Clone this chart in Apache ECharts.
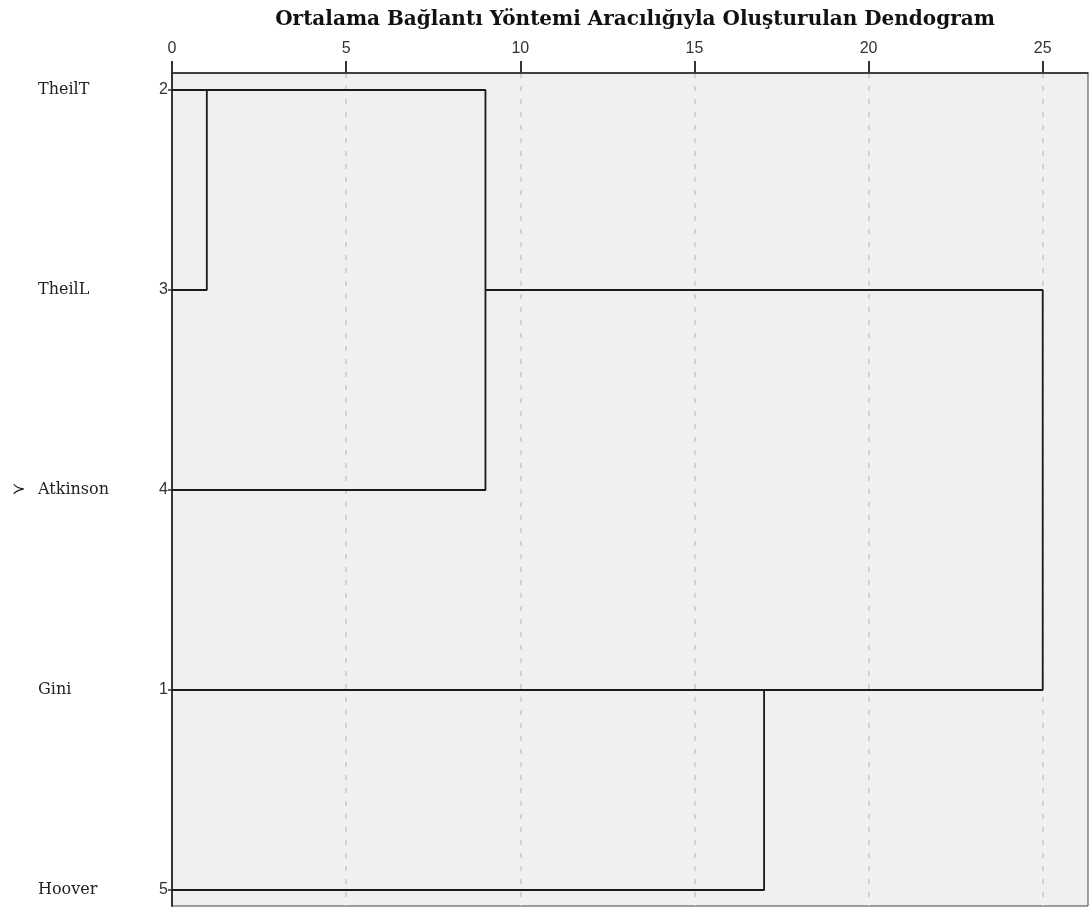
<!DOCTYPE html>
<html>
<head>
<meta charset="utf-8">
<script src="https://cdn.jsdelivr.net/npm/echarts@6/dist/echarts.min.js"></script>
<style>
  html, body { margin: 0; background: #fff; }
  #chart { width: 1092px; height: 924px; }
</style>
</head>
<body>
<div id="chart"></div>
<script>
// leaves top to bottom, with SPSS case numbers
const leafNames = ['TheilT', 'TheilL', 'Atkinson', 'Gini', 'Hoover'];
const leafCases = ['2', '3', '4', '1', '5'];
// merge steps: node ids 0-4 are leaves, 5.. are the clusters made by each step
const mergeLeft = [0, 5, 3, 6];
const mergeRight = [1, 2, 4, 7];
const mergeHeight = [1, 9, 17, 25];
const mergeRow = [0, 1, 3, 2];
const xTicks = [0, 5, 10, 15, 20, 25];
const rowTicks = [0, 1, 2, 3, 4];

const nodeRow = (id) => (id < leafNames.length ? id : mergeRow[id - leafNames.length]);
const nodeHeight = (id) => (id < leafNames.length ? 0 : mergeHeight[id - leafNames.length]);

const series = mergeHeight.map((h, k) => {
  const l = mergeLeft[k];
  const r = mergeRight[k];
  return {
    type: 'line',
    symbol: 'none',
    silent: true,
    lineStyle: { color: '#1a1a1a', width: 1.8 },
    data: [
      [nodeHeight(l), nodeRow(l)],
      [h, nodeRow(l)],
      [h, nodeRow(r)],
      [nodeHeight(r), nodeRow(r)],
    ],
  };
});

const chart = echarts.init(document.getElementById('chart'));
chart.setOption({
  animation: false,
  backgroundColor: '#fff',
  title: {
    text: 'Ortalama Bağlantı Yöntemi Aracılığıyla Oluşturulan Dendogram',
    left: 630,
    top: 5,
    textAlign: 'center',
    textStyle: { fontFamily: 'DejaVu Serif', fontWeight: 'bold', fontSize: 20, color: '#111' },
  },
  grid: {
    left: 172,
    right: 4,
    top: 73,
    bottom: 18,
    show: true,
    backgroundColor: '#f0f0f0',
    borderColor: '#444',
    borderWidth: 1,
  },
  xAxis: {
    type: 'value',
    position: 'top',
    min: 0,
    max: 26.3,
    interval: 5,
    axisLine: { show: true, onZero: false, lineStyle: { color: '#222', width: 1.5 } },
    axisTick: { show: true, inside: false, length: 12, customValues: xTicks, lineStyle: { color: '#333', width: 2 } },
    axisLabel: {
      customValues: xTicks,
      margin: 16,
      color: '#333',
      fontFamily: 'Liberation Sans',
      fontSize: 16,
    },
    splitLine: { show: true, lineStyle: { color: '#c8c8c8', width: 1.5, type: [5, 8] } },
  },
  yAxis: {
    type: 'value',
    inverse: true,
    min: -0.085,
    max: 4.08,
    axisLine: { show: true, onZero: false, lineStyle: { color: '#333', width: 2 } },
    axisTick: { show: true, length: 4, customValues: rowTicks, lineStyle: { color: '#333', width: 1.5 } },
    splitLine: { show: false },
    axisLabel: {
      customValues: rowTicks,
      margin: 4,
      formatter: (v) => {
        const i = Math.round(v);
        const mark = leafNames[i] === 'Atkinson' ? '≻' : ' ';
        return '{m|' + mark + '}{n|' + leafNames[i] + '}{c|' + leafCases[i] + '}';
      },
      rich: {
        m: { width: 26, align: 'left', fontFamily: 'DejaVu Sans', fontSize: 16, color: '#222' },
        n: { width: 120, align: 'left', fontFamily: 'DejaVu Serif', fontSize: 16, color: '#222' },
        c: { width: 10, align: 'right', fontFamily: 'Liberation Sans', fontSize: 16, color: '#333' },
      },
    },
  },
  series: series,
});
</script>
</body>
</html>
